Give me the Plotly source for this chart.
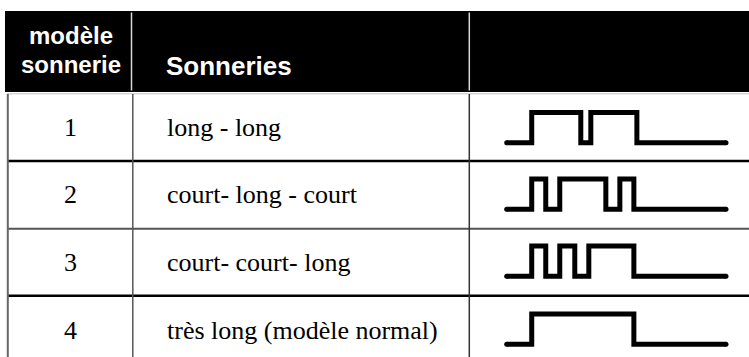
import plotly.graph_objects as go

# ---------------- data ----------------
modele = ["1", "2", "3", "4"]
sonneries = ["long - long", "court- long - court", "court- court- long", "très long (modèle normal)"]
header_col1 = ["modèle", "sonnerie"]
header_col2 = "Sonneries"

# waveform step transitions (time units) and signal level (0 = off, 1 = on)
wave_t = [
    [0, 25, 74, 84, 130, 219],
    [0, 25, 39, 53, 99, 113, 127, 219],
    [0, 25, 39, 53, 68, 82, 127, 219],
    [0, 25, 127, 219],
]
wave_level = [
    [0, 1, 0, 1, 0, 0],
    [0, 1, 0, 1, 0, 1, 0, 0],
    [0, 1, 0, 1, 0, 1, 0, 0],
    [0, 1, 0, 0],
]
T_END = 219

# ---------------- layout helpers ----------------
W, H = 749, 357


def px(x):
    return x / W


def py(y):
    return 1 - y / H


fig = go.Figure()
shapes = []
annotations = []

# header band
shapes.append(dict(type="rect", xref="paper", yref="paper", x0=px(5), x1=px(749), y0=py(92), y1=py(11),
                   fillcolor="black", line=dict(width=0), layer="below"))
# header dividers
for xx in (131.5, 469.3):
    shapes.append(dict(type="line", xref="paper", yref="paper", x0=px(xx), x1=px(xx), y0=py(12.5), y1=py(90.5),
                       line=dict(color="#d8d8d8", width=1.5)))
# line under header
shapes.append(dict(type="line", xref="paper", yref="paper", x0=px(7), x1=px(749), y0=py(93.8), y1=py(93.8),
                   line=dict(color="#c0c0c0", width=1)))
# row separators
for yy, col, wd in ((161, "black", 2.5), (228.8, "#555555", 2), (295.8, "black", 2.5)):
    shapes.append(dict(type="line", xref="paper", yref="paper", x0=px(7), x1=px(749), y0=py(yy), y1=py(yy),
                       line=dict(color=col, width=wd)))
# vertical body lines
for xx, col, wd in ((7.8, "#666666", 2), (132.8, "#555555", 1.5), (469.3, "#333333", 1.5)):
    shapes.append(dict(type="line", xref="paper", yref="paper", x0=px(xx), x1=px(xx), y0=py(94), y1=py(360),
                       line=dict(color=col, width=wd)))

# header text
hfam = "Liberation Sans, Arial, sans-serif"
for txt, base in zip(header_col1, (46, 75)):
    annotations.append(dict(xref="paper", yref="paper", x=px(70.5), y=py(base + 5.5), text="<b>%s</b>" % txt,
                            showarrow=False, xanchor="center", yanchor="bottom",
                            font=dict(family=hfam, size=24, color="white")))
annotations.append(dict(xref="paper", yref="paper", x=px(164), y=py(76.7 + 6), text="<b>%s</b>" % header_col2,
                        showarrow=False, xanchor="left", yanchor="bottom",
                        font=dict(family=hfam, size=26, color="white")))

# body rows
row_centers = [127, 195, 262.5, 330]
bfont = dict(family="Liberation Serif, Times New Roman, serif", size=26, color="black")
for i in range(4):
    annotations.append(dict(xref="paper", yref="paper", x=px(70.5), y=py(row_centers[i]), text=modele[i],
                            showarrow=False, xanchor="center", yanchor="middle", font=bfont))
    annotations.append(dict(xref="paper", yref="paper", x=px(165), y=py(row_centers[i]), text=sonneries[i],
                            showarrow=False, xanchor="left", yanchor="middle", font=bfont))

# waveform subplots
baselines = [142.7, 209.3, 276.3, 344.3]
amp = 30.3
x_start, x_end = 506.7, 726.0
pad = 6
scale = (x_end - x_start) / T_END
layout_axes = {}
for i in range(4):
    n = i + 2
    fig.add_trace(go.Scatter(x=wave_t[i], y=wave_level[i], mode="lines", line_shape="hv",
                             line=dict(color="black", width=5), hoverinfo="skip",
                             xaxis="x%d" % n, yaxis="y%d" % n, showlegend=False))
    # rounded ends of the trace (first and last sample)
    fig.add_trace(go.Scatter(x=[wave_t[i][0], wave_t[i][-1]], y=[wave_level[i][0], wave_level[i][-1]],
                             mode="markers", marker=dict(color="black", size=5, line=dict(width=0)),
                             hoverinfo="skip", xaxis="x%d" % n, yaxis="y%d" % n, showlegend=False))
    b = baselines[i]
    t = b - amp
    layout_axes["xaxis%d" % n] = dict(domain=[px(x_start - pad), px(x_end + pad)],
                                      range=[-pad / scale, T_END + pad / scale],
                                      anchor="y%d" % n, visible=False, fixedrange=True)
    layout_axes["yaxis%d" % n] = dict(domain=[py(b + pad), py(t - pad)],
                                      range=[-pad / amp, 1 + pad / amp],
                                      anchor="x%d" % n, visible=False, fixedrange=True)

fig.update_layout(
    width=W, height=H,
    margin=dict(l=0, r=0, t=0, b=0, pad=0),
    paper_bgcolor="white", plot_bgcolor="rgba(0,0,0,0)",
    shapes=shapes, annotations=annotations,
    xaxis=dict(visible=False), yaxis=dict(visible=False),
    showlegend=False,
    **layout_axes,
)

fig.write_html("out.html", config={"displayModeBar": False},
               post_script="document.body.style.margin='0';document.body.style.padding='0';")
